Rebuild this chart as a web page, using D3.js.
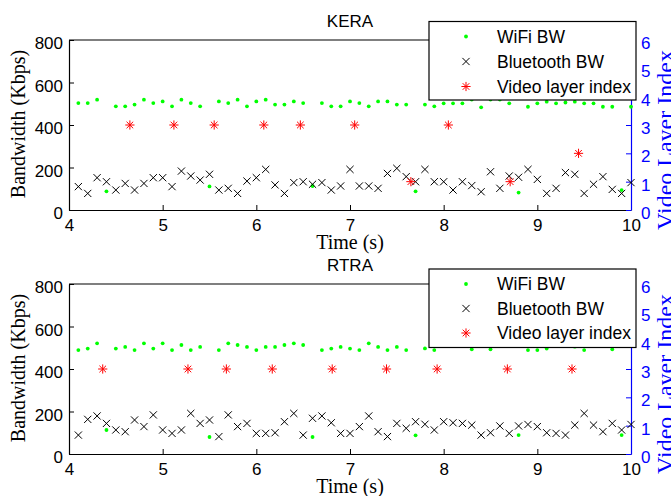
<!DOCTYPE html>
<html>
<head>
<meta charset="utf-8">
<script src="https://cdn.jsdelivr.net/npm/d3@7"></script>
<style>
  body { margin: 0; background: #fff; }
  svg { display: block; }
</style>
</head>
<body>
<svg id="chart" width="671" height="496"></svg>
<script>
/**
  Bandwidth + video layer index, two panels (KERA / RTRA), plotyy style.
*/

var sampleTimes = [4.1, 4.2, 4.3, 4.4, 4.5, 4.6, 4.7, 4.8, 4.9, 5.0,
  5.1, 5.2, 5.3, 5.4, 5.5, 5.6, 5.7, 5.8, 5.9, 6.0,
  6.1, 6.2, 6.3, 6.4, 6.5, 6.6, 6.7, 6.8, 6.9, 7.0,
  7.1, 7.2, 7.3, 7.4, 7.5, 7.6, 7.7, 7.8, 7.9, 8.0,
  8.1, 8.2, 8.3, 8.4, 8.5, 8.6, 8.7, 8.8, 8.9, 9.0,
  9.1, 9.2, 9.3, 9.4, 9.5, 9.6, 9.7, 9.8, 9.9, 10.0];

var keraWifi = [503, 503, 519, 88, 488, 488, 496, 519, 503, 511,
  488, 519, 503, 488, 111, 511, 503, 519, 488, 511,
  519, 496, 496, 511, 503, 113, 503, 488, 488, 511,
  503, 488, 511, 511, 496, 496, 88, 496, 488, 502,
  502, 502, 520, 483, 520, 520, 502, 82, 486, 502,
  510, 502, 506, 510, 502, 502, 486, 486, 94, 486];

var keraBluetooth = [110, 78, 152, 133, 94, 125, 94, 125, 152, 152,
  110, 183, 160, 141, 168, 94, 102, 78, 136, 152,
  191, 118, 78, 129, 133, 121, 129, 94, 113, 191,
  113, 113, 102, 172, 196, 157, 133, 191, 133, 133,
  94, 133, 115, 86, 180, 102, 160, 154, 191, 144,
  78, 102, 176, 168, 78, 121, 157, 97, 78, 129];

var keraLayerTimes = [4.65, 5.12, 5.55, 6.08, 6.47, 7.05, 7.65, 8.05, 8.71, 9.44];
var keraLayers = [3, 3, 3, 3, 3, 3, 1, 3, 1, 2];

var rtraWifi = [489, 496, 521, 113, 496, 504, 489, 521, 496, 521,
  489, 513, 489, 504, 80, 489, 521, 513, 504, 489,
  504, 504, 513, 521, 513, 80, 489, 496, 504, 496,
  489, 521, 504, 489, 504, 489, 88, 497, 489, 510,
  515, 510, 493, 512, 493, 515, 508, 89, 489, 489,
  496, 510, 515, 505, 489, 512, 508, 493, 89, 510];

var rtraBluetooth = [89, 163, 179, 144, 113, 105, 160, 129, 184, 113,
  97, 113, 191, 144, 160, 82, 184, 129, 144, 97,
  97, 100, 152, 191, 89, 168, 179, 147, 97, 97,
  129, 179, 105, 82, 144, 121, 152, 140, 113, 152,
  147, 144, 136, 89, 100, 132, 97, 132, 139, 129,
  100, 97, 89, 136, 191, 136, 105, 144, 113, 139];

var rtraLayerTimes = [4.36, 5.27, 5.68, 6.17, 6.81, 7.39, 7.93, 8.68, 9.37];
var rtraLayers = [3, 3, 3, 3, 3, 3, 3, 3, 3];

var bwTicks = [0, 200, 400, 600, 800];
var layerTicks = [0, 1, 2, 3, 4, 5, 6];
var timeTicks = [4, 5, 6, 7, 8, 9, 10];
var legendLabels = ['WiFi BW', 'Bluetooth BW', 'Video layer index'];

var SANS = '"Liberation Sans", Arial, Helvetica, sans-serif';
var SERIF = '"Liberation Serif", "Times New Roman", serif';

var svg = d3.select('#chart');

var x = d3.scaleLinear().domain([4, 10]).range([69, 631]);

var panels = [
  { title: 'KERA', top: 40, bottom: 210, wifi: keraWifi, bt: keraBluetooth,
    layerTimes: keraLayerTimes, layers: keraLayers, legendTop: 21.5, legendRow: 25 },
  { title: 'RTRA', top: 284, bottom: 454, wifi: rtraWifi, bt: rtraBluetooth,
    layerTimes: rtraLayerTimes, layers: rtraLayers, legendTop: 269, legendRow: 24.5 }
];

function crossPath(s) {
  return 'M' + (-s) + ',' + (-s) + 'L' + s + ',' + s +
         'M' + (-s) + ',' + s + 'L' + s + ',' + (-s);
}

function starPath(s) {
  var d = s * 0.72;
  return 'M' + (-s) + ',0H' + s + 'M0,' + (-s) + 'V' + s +
         'M' + (-d) + ',' + (-d) + 'L' + d + ',' + d +
         'M' + (-d) + ',' + d + 'L' + d + ',' + (-d);
}

function styleAxis(g, color) {
  g.select('.domain').attr('stroke', color).attr('stroke-width', 1.2);
  g.selectAll('.tick line').attr('stroke', color);
  g.selectAll('.tick text')
    .attr('fill', color)
    .style('font-family', SANS)
    .style('font-size', '17px');
}

function drawPanel(p) {
  var y = d3.scaleLinear().domain([0, 800]).range([p.bottom, p.top]);
  var yr = d3.scaleLinear().domain([0, 6]).range([p.bottom, p.top]);
  var g = svg.append('g');

  // top border of the box
  g.append('line')
    .attr('x1', x(4)).attr('x2', x(10))
    .attr('y1', p.top).attr('y2', p.top)
    .attr('stroke', '#000').attr('stroke-width', 1.2);

  var xAxis = g.append('g')
    .attr('transform', 'translate(0,' + p.bottom + ')')
    .call(d3.axisBottom(x).tickValues(timeTicks).tickFormat(d3.format('d'))
      .tickSizeInner(-5).tickSizeOuter(0).tickPadding(9));
  styleAxis(xAxis, '#000');

  var yAxis = g.append('g')
    .attr('transform', 'translate(' + x(4) + ',0)')
    .call(d3.axisLeft(y).tickValues(bwTicks).tickFormat(d3.format('d'))
      .tickSizeInner(-5).tickSizeOuter(0).tickPadding(6));
  styleAxis(yAxis, '#000');
  yAxis.selectAll('.tick text').attr('dy', '0.5em');

  var rAxis = g.append('g')
    .attr('transform', 'translate(' + x(10) + ',0)')
    .call(d3.axisRight(yr).tickValues(layerTicks).tickFormat(d3.format('d'))
      .tickSizeInner(-5).tickSizeOuter(0).tickPadding(10));
  styleAxis(rAxis, '#0000ff');
  rAxis.selectAll('.tick text').attr('dy', '0.5em');

  // series
  var wifiPts = sampleTimes.map(function(t, i) { return [t, p.wifi[i]]; });
  var btPts = sampleTimes.map(function(t, i) { return [t, p.bt[i]]; });
  var layerPts = p.layerTimes.map(function(t, i) { return [t, p.layers[i]]; });

  g.append('g').selectAll('circle')
    .data(wifiPts).enter()
    .append('circle')
      .attr('cx', function(d) { return x(d[0]); })
      .attr('cy', function(d) { return y(d[1]); })
      .attr('r', 1.9)
      .attr('fill', '#00ff00');

  g.append('g').selectAll('path')
    .data(btPts).enter()
    .append('path')
      .attr('transform', function(d) { return 'translate(' + x(d[0]) + ',' + y(d[1]) + ')'; })
      .attr('d', crossPath(3.6))
      .attr('stroke', '#000').attr('stroke-width', 1).attr('fill', 'none');

  g.append('g').selectAll('path')
    .data(layerPts).enter()
    .append('path')
      .attr('transform', function(d) { return 'translate(' + x(d[0]) + ',' + yr(d[1]) + ')'; })
      .attr('d', starPath(4.6))
      .attr('stroke', '#ff0000').attr('stroke-width', 1).attr('fill', 'none');

  // labels
  g.append('text')
    .attr('x', (x(4) + x(10)) / 2).attr('y', p.top - 13)
    .attr('text-anchor', 'middle')
    .style('font-family', SANS).style('font-size', '17px')
    .text(p.title);

  g.append('text')
    .attr('x', (x(4) + x(10)) / 2).attr('y', p.bottom + 38.5)
    .attr('text-anchor', 'middle')
    .style('font-family', SERIF).style('font-size', '20px')
    .text('Time (s)');

  g.append('text')
    .attr('transform', 'translate(25,' + ((p.top + p.bottom) / 2 - 1) + ') rotate(-90)')
    .attr('text-anchor', 'middle')
    .style('font-family', SERIF).style('font-size', '20px')
    .text('Bandwidth (Kbps)');

  // right label sits partly past the window edge, as in the original export
  g.append('text')
    .attr('transform', 'translate(673,' + ((p.top + p.bottom) / 2 + 15) + ') rotate(-90)')
    .attr('text-anchor', 'middle')
    .attr('fill', '#0000ff')
    .style('font-family', SERIF).style('font-size', '24px')
    .text('Video Layer Index');

  // legend
  var lg = g.append('g');
  lg.append('rect')
    .attr('x', 429).attr('y', p.legendTop)
    .attr('width', 207).attr('height', 78.5)
    .attr('fill', '#fff').attr('stroke', '#000').attr('stroke-width', 1.2);

  var rows = lg.selectAll('g.row')
    .data(legendLabels).enter()
    .append('g')
      .attr('transform', function(d, i) {
        return 'translate(0,' + (p.legendTop + 15 + i * p.legendRow) + ')';
      });

  rows.append('text')
    .attr('x', 497).attr('dy', '0.36em')
    .style('font-family', SANS).style('font-size', '17.5px')
    .text(function(d) { return d; });

  rows.filter(function(d, i) { return i === 0; })
    .append('circle').attr('cx', 466).attr('r', 1.9).attr('fill', '#00ff00');
  rows.filter(function(d, i) { return i === 1; })
    .append('path').attr('transform', 'translate(466,0)').attr('d', crossPath(3.6))
    .attr('stroke', '#000').attr('fill', 'none');
  rows.filter(function(d, i) { return i === 2; })
    .append('path').attr('transform', 'translate(466,0)').attr('d', starPath(4.6))
    .attr('stroke', '#ff0000').attr('fill', 'none');
}

panels.forEach(drawPanel);
</script>
</body>
</html>
